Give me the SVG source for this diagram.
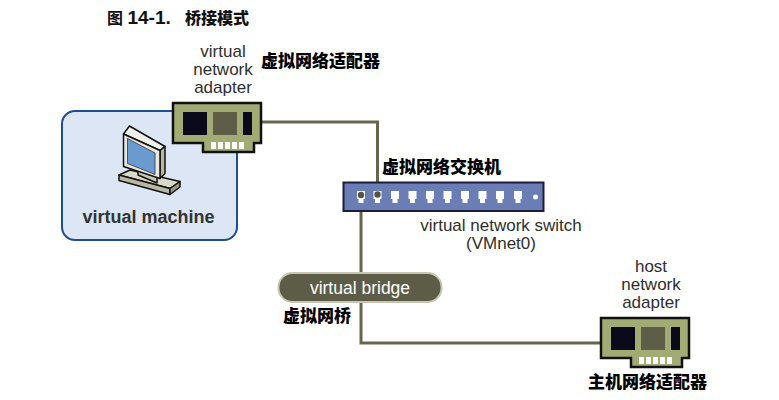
<svg xmlns="http://www.w3.org/2000/svg" width="779" height="400" viewBox="0 0 779 400">
<style>
text{font-family:"Liberation Sans",Arial,"Noto Sans CJK SC",sans-serif}
.lbl{font-size:17px;fill:#2e2e2e;text-anchor:middle}
.cjk{font-size:17px;font-weight:900;fill:#000;font-family:"Noto Sans CJK SC","Liberation Sans",sans-serif}
.wire{fill:none;stroke:#66664f;stroke-width:3}
.ol{stroke:#111;stroke-width:1.5;stroke-linejoin:round}
</style>
<defs>
<g id="card">
<path d="M0,0H88V40H81V49H30V40H0Z" fill="#a3ab74" stroke="#111" stroke-width="2.5" stroke-linejoin="miter"/>
<rect x="10" y="9" width="24" height="23" fill="#0a0a1a"/>
<rect x="40" y="9" width="24" height="23" fill="#5e5e48"/>
<rect x="70" y="9" width="9" height="23" fill="#0a0a1a"/>
<g fill="#fff">
<rect x="38" y="39" width="5" height="7"/>
<rect x="45" y="39" width="5" height="7"/>
<rect x="52" y="39" width="5" height="7"/>
<rect x="59" y="39" width="5" height="7"/>
<rect x="66" y="39" width="5" height="7"/>
</g>
</g>
<path id="port" d="M-4,0H4V8H2.5V12H-2.5V8H-4Z" fill="#fff"/>
</defs>

<text x="107" y="24" font-size="16" font-weight="bold" fill="#111">图 <tspan font-size="19">14-1.</tspan><tspan x="185" font-weight="900">桥接模式</tspan></text>

<g id="connectors">
<polyline class="wire" points="261,122 377.5,122 377.5,194"/>
<polyline class="wire" points="361,194 361,343 602,343"/>
</g>

<g id="virtual-machine">
<rect x="62" y="111" width="175" height="129" rx="13" fill="#dce6f4" stroke="#1f4e8c" stroke-width="2"/>
<polygon class="ol" points="119,175 130,170 180,181.5 170,188.5" fill="#d8d8c6"/>
<polygon class="ol" points="119,175 170,188.5 170,194.5 119,180.5" fill="#b8b8a4"/>
<polygon class="ol" points="170,188.5 180,181.5 180,187 170,194.5" fill="#9a9a88"/>
<polygon class="ol" points="138,168 157,176 157,183 138,175" fill="#c8c8b8"/>
<polygon class="ol" points="123.5,134 129.5,126 165,146.5 160,150.5" fill="#f0f0ea"/>
<polygon class="ol" points="160,150.5 165,146.5 165,173.5 160,178.5" fill="#b8b8a4"/>
<polygon class="ol" points="123.5,134 160,150.5 160,178.5 123.5,166.5" fill="#e8e8e0"/>
<polygon points="127.5,138.5 155,153 155,174.5 127.5,163.5" fill="#6a9bd0" stroke="#333" stroke-width="0.8"/>
<text x="148.5" y="223" font-size="18" font-weight="bold" fill="#333" text-anchor="middle">virtual machine</text>
</g>

<g id="virtual-adapter">
<use href="#card" x="173" y="103"/>
<text class="lbl" x="223" y="57">virtual</text>
<text class="lbl" x="223" y="75">network</text>
<text class="lbl" x="223" y="93">adapter</text>
<text class="cjk" x="261" y="67" font-size="16">虚拟网络适配器</text>
</g>

<g id="switch">
<rect x="343.5" y="182.5" width="200" height="28.5" fill="#6b7db5" stroke="#1c1c3c" stroke-width="2"/>
<use href="#port" x="361" y="191"/>
<use href="#port" x="377.5" y="191"/>
<use href="#port" x="395" y="191"/>
<use href="#port" x="412.5" y="191"/>
<use href="#port" x="430" y="191"/>
<use href="#port" x="447.5" y="191"/>
<use href="#port" x="465" y="191"/>
<use href="#port" x="482.5" y="191"/>
<use href="#port" x="500" y="191"/>
<use href="#port" x="518" y="191"/>
<circle cx="535.5" cy="197" r="2.5" fill="#fff"/>
<circle cx="361" cy="195" r="3.2" fill="#55553f"/>
<circle cx="377.5" cy="194.5" r="3.2" fill="#55553f"/>
<text class="cjk" x="382" y="173" font-size="18">虚拟网络交换机</text>
<text class="lbl" x="501" y="231">virtual network switch</text>
<text class="lbl" x="501" y="249">(VMnet0)</text>
</g>

<g id="virtual-bridge">
<rect x="278.5" y="273" width="163" height="29" rx="14" fill="#5d5d47" stroke="#c6c6b2" stroke-width="2"/>
<text x="360" y="294" font-size="17.5" fill="#fff" text-anchor="middle">virtual bridge</text>
<text class="cjk" x="283" y="322" font-size="18">虚拟网桥</text>
</g>

<g id="host-adapter">
<use href="#card" x="601" y="318"/>
<text class="lbl" x="651" y="272">host</text>
<text class="lbl" x="651" y="290">network</text>
<text class="lbl" x="651" y="308">adapter</text>
<text class="cjk" x="588" y="388" font-size="18">主机网络适配器</text>
</g>
</svg>
